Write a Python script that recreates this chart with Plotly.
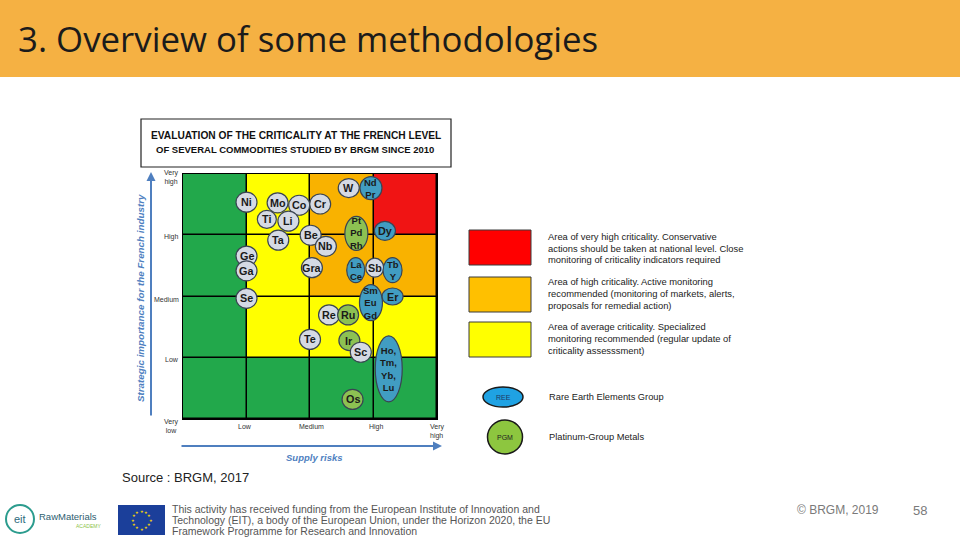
import math
import plotly.graph_objects as go

# ---------------- data ----------------
level_labels = ["Very<br>low", "Low", "Medium", "High", "Very<br>high"]
supply_levels = ["Low", "Medium", "High", "Very<br>high"]
# criticality zone per cell: rows = strategic importance (bottom->top), cols = supply risk (left->right)
# 0 = low (green), 1 = average (yellow), 2 = high (orange), 3 = very high (red)
criticality = [
    [0, 0, 0, 0],
    [0, 1, 1, 1],
    [0, 1, 2, 2],
    [0, 1, 2, 3],
]
elements = ["Ni", "Mo", "Co", "Cr", "W", "Nd Pr", "Ti", "Li", "Ta", "Be", "Nb",
            "Pt Pd Rh", "Dy", "Ge", "Ga", "Gra", "La Ce", "Sb", "Tb Y", "Se",
            "Sm Eu Gd", "Er", "Re", "Ru", "Te", "Ir", "Sc", "Ho, Tm, Yb, Lu", "Os"]
supply_risk = [1.00, 1.49, 1.83, 2.16, 2.61, 2.96, 1.32, 1.66, 1.50, 2.01, 2.25,
               2.73, 3.18, 1.00, 1.00, 2.03, 2.72, 3.02, 3.30, 1.00,
               2.96, 3.30, 2.30, 2.60, 2.00, 2.62, 2.80, 3.24, 2.67]
strategic_importance = [3.54, 3.53, 3.49, 3.51, 3.77, 3.77, 3.26, 3.23, 2.92, 3.00, 2.82,
                        3.03, 3.07, 2.66, 2.42, 2.47, 2.43, 2.47, 2.43, 1.97,
                        1.90, 2.00, 1.70, 1.70, 1.30, 1.28, 1.09, 0.82, 0.32]
group = ["other", "other", "other", "other", "other", "REE", "other", "other", "other", "other", "other",
         "PGM", "REE", "other", "other", "other", "REE", "other", "REE", "other",
         "REE", "REE", "other", "PGM", "other", "PGM", "other", "REE", "PGM"]

zone_texts = [
    ["Area of very high criticality. Conservative",
     "actions should be taken at national level. Close",
     "monitoring of criticality indicators required"],
    ["Area of high criticality. Active monitoring",
     "recommended (monitoring of markets, alerts,",
     "proposals for remedial action)"],
    ["Area of average criticality. Specialized",
     "monitoring recommended (regular update of",
     "criticality assesssment)"],
]
group_legend = [("REE", "Rare Earth Elements Group"), ("PGM", "Platinum-Group Metals")]

# ---------------- styles ----------------
W, H = 960, 540
def PX(x): return x / W
def PY(y): return 1 - y / H

GREEN, YELLOW, ORANGE, RED = "#22A84B", "#FFFF00", "#F9B200", "#F01414"
ZONE_LEGEND_COL = ["#FF0000", "#FFC000", "#FFFF00"]
FILL = {"other": "#D5DAE4", "REE": "#419DC2", "PGM": "#8DC152"}
LEG_FILL = {"REE": "#1FA2E3", "PGM": "#8DC63F"}
BUBBLE_SIZE = {"Nd Pr": (22, 23), "Pt Pd Rh": (23, 34), "La Ce": (18, 25), "Tb Y": (19, 25),
               "Sm Eu Gd": (23, 36), "Ho, Tm, Yb, Lu": (27, 66), "W": (21, 19),
               "Er": (21, 17), "Sb": (18, 19), "Dy": (21, 19), "Ti": (19, 18)}
AXIS_BLUE = "#4F7FBF"

fig = go.Figure()

# zones
fig.add_trace(go.Heatmap(
    z=criticality,
    x=[i + 0.5 for i in range(4)],
    y=[i + 0.5 for i in range(4)],
    zmin=0, zmax=3, showscale=False, hoverinfo="skip",
    xgap=1.5, ygap=1.5,
    colorscale=[[0, GREEN], [0.1667, GREEN], [0.1667, YELLOW], [0.5, YELLOW],
                [0.5, ORANGE], [0.8333, ORANGE], [0.8333, RED], [1, RED]],
))

# element centres (hover)
fig.add_trace(go.Scatter(
    x=supply_risk, y=strategic_importance, mode="markers",
    marker=dict(size=18, opacity=0), text=elements, hoverinfo="text", showlegend=False,
))

shapes = []
annotations = []

# bubbles
for name, sx, sy, g in zip(elements, supply_risk, strategic_importance, group):
    w, h = BUBBLE_SIZE.get(name, (21, 20))
    shapes.append(dict(type="circle", xref="x", yref="y", xsizemode="pixel", ysizemode="pixel",
                       xanchor=sx, yanchor=sy, x0=-w / 2, x1=w / 2, y0=-h / 2, y1=h / 2,
                       fillcolor=FILL[g], line=dict(color="#3A4452", width=1.2), layer="above"))
    multi = " " in name
    annotations.append(dict(xref="x", yref="y", x=sx, y=sy,
                            text="<b>" + name.replace(" ", "<br>") + "</b>",
                            showarrow=False, xanchor="center", yanchor="middle",
                            font=dict(family="Liberation Sans, Arial", size=9.5 if multi else 10.8,
                                      color="#1a1a1a"),
                            ))

# axis level labels
y_shift = [-7, -2, -3, -2, -4]
for i, lab in enumerate(level_labels):
    annotations.append(dict(xref="paper", yref="y", x=PX(181), y=i, yshift=y_shift[i], text=lab,
                            showarrow=False, xanchor="right", yanchor="middle", align="center",
                            font=dict(family="Liberation Sans, Arial", size=7, color="#333")))
for i, lab in enumerate(supply_levels):
    annotations.append(dict(xref="x", yref="paper", x=i + 1, y=PY(421), text=lab,
                            showarrow=False, xanchor="center", yanchor="top", align="left",
                            xshift=[-2, 1, 3, 0][i],
                            font=dict(family="Liberation Sans, Arial", size=7, color="#333")))

# axis arrows and titles
annotations.append(dict(xref="paper", yref="paper", x=PX(151), y=PY(172), ax=0, ay=245,
                        axref="pixel", ayref="pixel", showarrow=True, arrowhead=2, arrowsize=0.9,
                        arrowwidth=2, arrowcolor=AXIS_BLUE, text=""))
annotations.append(dict(xref="paper", yref="paper", x=PX(442), y=PY(446), ax=-262, ay=0,
                        showarrow=True, arrowhead=2, arrowsize=0.9, arrowwidth=2,
                        arrowcolor=AXIS_BLUE, text=""))
annotations.append(dict(xref="paper", yref="paper", x=PX(140), y=PY(298), textangle=-90,
                        text="<b><i>Strategic importance for the French industry</i></b>",
                        showarrow=False, xanchor="center", yanchor="middle",
                        font=dict(family="Liberation Sans, Arial", size=9.8, color=AXIS_BLUE)))
annotations.append(dict(xref="paper", yref="paper", x=PX(314), y=PY(457),
                        text="<b><i>Supply risks</i></b>", showarrow=False,
                        xanchor="center", yanchor="middle",
                        font=dict(family="Liberation Sans, Arial", size=9.5, color=AXIS_BLUE)))

# title box
shapes.append(dict(type="rect", xref="paper", yref="paper", x0=PX(141), x1=PX(451),
                   y0=PY(167), y1=PY(119), line=dict(color="#222", width=1.2), fillcolor="white"))
annotations.append(dict(xref="paper", yref="paper", x=PX(296), y=PY(136),
                        text="<b>EVALUATION OF THE CRITICALITY AT THE FRENCH LEVEL</b>",
                        showarrow=False, xanchor="center", yanchor="middle",
                        font=dict(family="Liberation Sans, Arial", size=10.2, color="#111")))
annotations.append(dict(xref="paper", yref="paper", x=PX(295), y=PY(149),
                        text="<b>OF SEVERAL COMMODITIES STUDIED BY BRGM SINCE 2010</b>",
                        showarrow=False, xanchor="center", yanchor="middle",
                        font=dict(family="Liberation Sans, Arial", size=9.5, color="#111")))

# zone legend
box_tops = [230, 277, 322]
for k, (col, lines) in enumerate(zip(ZONE_LEGEND_COL, zone_texts)):
    t = box_tops[k]
    shapes.append(dict(type="rect", xref="paper", yref="paper", x0=PX(469), x1=PX(531),
                       y0=PY(t + 35), y1=PY(t), fillcolor=col, line=dict(color="#3a3a3a", width=1)))
    for j, ln in enumerate(lines):
        annotations.append(dict(xref="paper", yref="paper", x=PX(546), y=PY(236 + 45 * k + 12 * j),
                                text=ln, showarrow=False, xanchor="left", yanchor="middle",
                                font=dict(family="Liberation Sans, Arial", size=9.4, color="#222")))

# group legend
leg_geo = [(503, 397, 40, 20), (505, 437, 35, 34)]
for (g, lab), (cx, cy, w, h) in zip(group_legend, leg_geo):
    shapes.append(dict(type="circle", xref="paper", yref="paper", x0=PX(cx - w / 2), x1=PX(cx + w / 2),
                       y0=PY(cy + h / 2), y1=PY(cy - h / 2), fillcolor=LEG_FILL[g],
                       line=dict(color="#1a1a1a", width=1.5)))
    annotations.append(dict(xref="paper", yref="paper", x=PX(cx), y=PY(cy), text=g, showarrow=False,
                            xanchor="center", yanchor="middle",
                            font=dict(family="Liberation Sans, Arial", size=7,
                                      color="#1F3864" if g == "REE" else "#222")))
    annotations.append(dict(xref="paper", yref="paper", x=PX(547), y=PY(cy), text=lab, showarrow=False,
                            xanchor="left", yanchor="middle",
                            font=dict(family="Liberation Sans, Arial", size=9.3, color="#222")))

# header bar
shapes.append(dict(type="rect", xref="paper", yref="paper", x0=0, x1=1, y0=PY(77), y1=1,
                   fillcolor="#F5B143", line=dict(width=0), layer="below"))
annotations.append(dict(xref="paper", yref="paper", x=PX(16), y=PY(38),
                        text="3. Overview of some methodologies", showarrow=False,
                        xanchor="left", yanchor="middle",
                        font=dict(family="Open Sans", size=34.8, color="#1b1b1b")))

# source
annotations.append(dict(xref="paper", yref="paper", x=PX(120), y=PY(477), text="Source : BRGM, 2017",
                        showarrow=False, xanchor="left", yanchor="middle",
                        font=dict(family="Liberation Sans, Arial", size=13, color="#222")))

# footer: EIT logo
shapes.append(dict(type="circle", xref="paper", yref="paper", x0=PX(6), x1=PX(34),
                   y0=PY(533), y1=PY(505), line=dict(color="#2C9C8E", width=2)))
annotations.append(dict(xref="paper", yref="paper", x=PX(20), y=PY(519), text="eit", showarrow=False,
                        xanchor="center", yanchor="middle",
                        font=dict(family="Liberation Sans, Arial", size=11, color="#2E6B7C")))
annotations.append(dict(xref="paper", yref="paper", x=PX(37), y=PY(516), text="RawMaterials",
                        showarrow=False, xanchor="left", yanchor="middle",
                        font=dict(family="Liberation Sans, Arial", size=9.5, color="#2E5E70")))
annotations.append(dict(xref="paper", yref="paper", x=PX(103), y=PY(526), text="ACADEMY",
                        showarrow=False, xanchor="right", yanchor="middle",
                        font=dict(family="Liberation Sans, Arial", size=5, color="#8BC34A")))
# EU flag
shapes.append(dict(type="rect", xref="paper", yref="paper", x0=PX(118), x1=PX(165),
                   y0=PY(535), y1=PY(505), fillcolor="#1B3F9A", line=dict(width=0)))
for k in range(12):
    a = 2 * math.pi * k / 12
    annotations.append(dict(xref="paper", yref="paper", x=PX(141.5 + 9 * math.cos(a)),
                            y=PY(520 + 9 * math.sin(a)), text="★", showarrow=False,
                            xanchor="center", yanchor="middle",
                            font=dict(family="DejaVu Sans", size=4, color="#FFDD00")))
footer_lines = ["This activity has received funding from the European Institute of Innovation and",
                "Technology (EIT), a body of the European Union, under the Horizon 2020, the EU",
                "Framework Programme for Research and Innovation"]
for j, ln in enumerate(footer_lines):
    annotations.append(dict(xref="paper", yref="paper", x=PX(170), y=PY(509 + 11 * j), text=ln,
                            showarrow=False, xanchor="left", yanchor="middle",
                            font=dict(family="Liberation Sans, Arial", size=10.5, color="#555")))
annotations.append(dict(xref="paper", yref="paper", x=PX(795), y=PY(510), text="© BRGM, 2019",
                        showarrow=False, xanchor="left", yanchor="middle",
                        font=dict(family="Liberation Sans, Arial", size=12, color="#7a7a7a")))
annotations.append(dict(xref="paper", yref="paper", x=PX(920), y=PY(510), text="58",
                        showarrow=False, xanchor="center", yanchor="middle",
                        font=dict(family="Liberation Sans, Arial", size=13, color="#7a7a7a")))

fig.update_layout(
    width=W, height=H, margin=dict(l=0, r=0, t=0, b=0),
    paper_bgcolor="white", plot_bgcolor="black", showlegend=False,
    xaxis=dict(domain=[PX(183), PX(437)], range=[0, 4], showgrid=False, zeroline=False,
               showticklabels=False, showline=True, mirror=True, linecolor="black", linewidth=1.2,
               fixedrange=True),
    yaxis=dict(domain=[PY(419), PY(174)], range=[0, 4], showgrid=False, zeroline=False,
               showticklabels=False, showline=True, mirror=True, linecolor="black", linewidth=1.2,
               fixedrange=True),
    shapes=shapes, annotations=annotations,
)

fig.write_html("out.html", config={"displayModeBar": False},
               post_script="document.body.style.margin='0';document.body.style.overflow='hidden';")
